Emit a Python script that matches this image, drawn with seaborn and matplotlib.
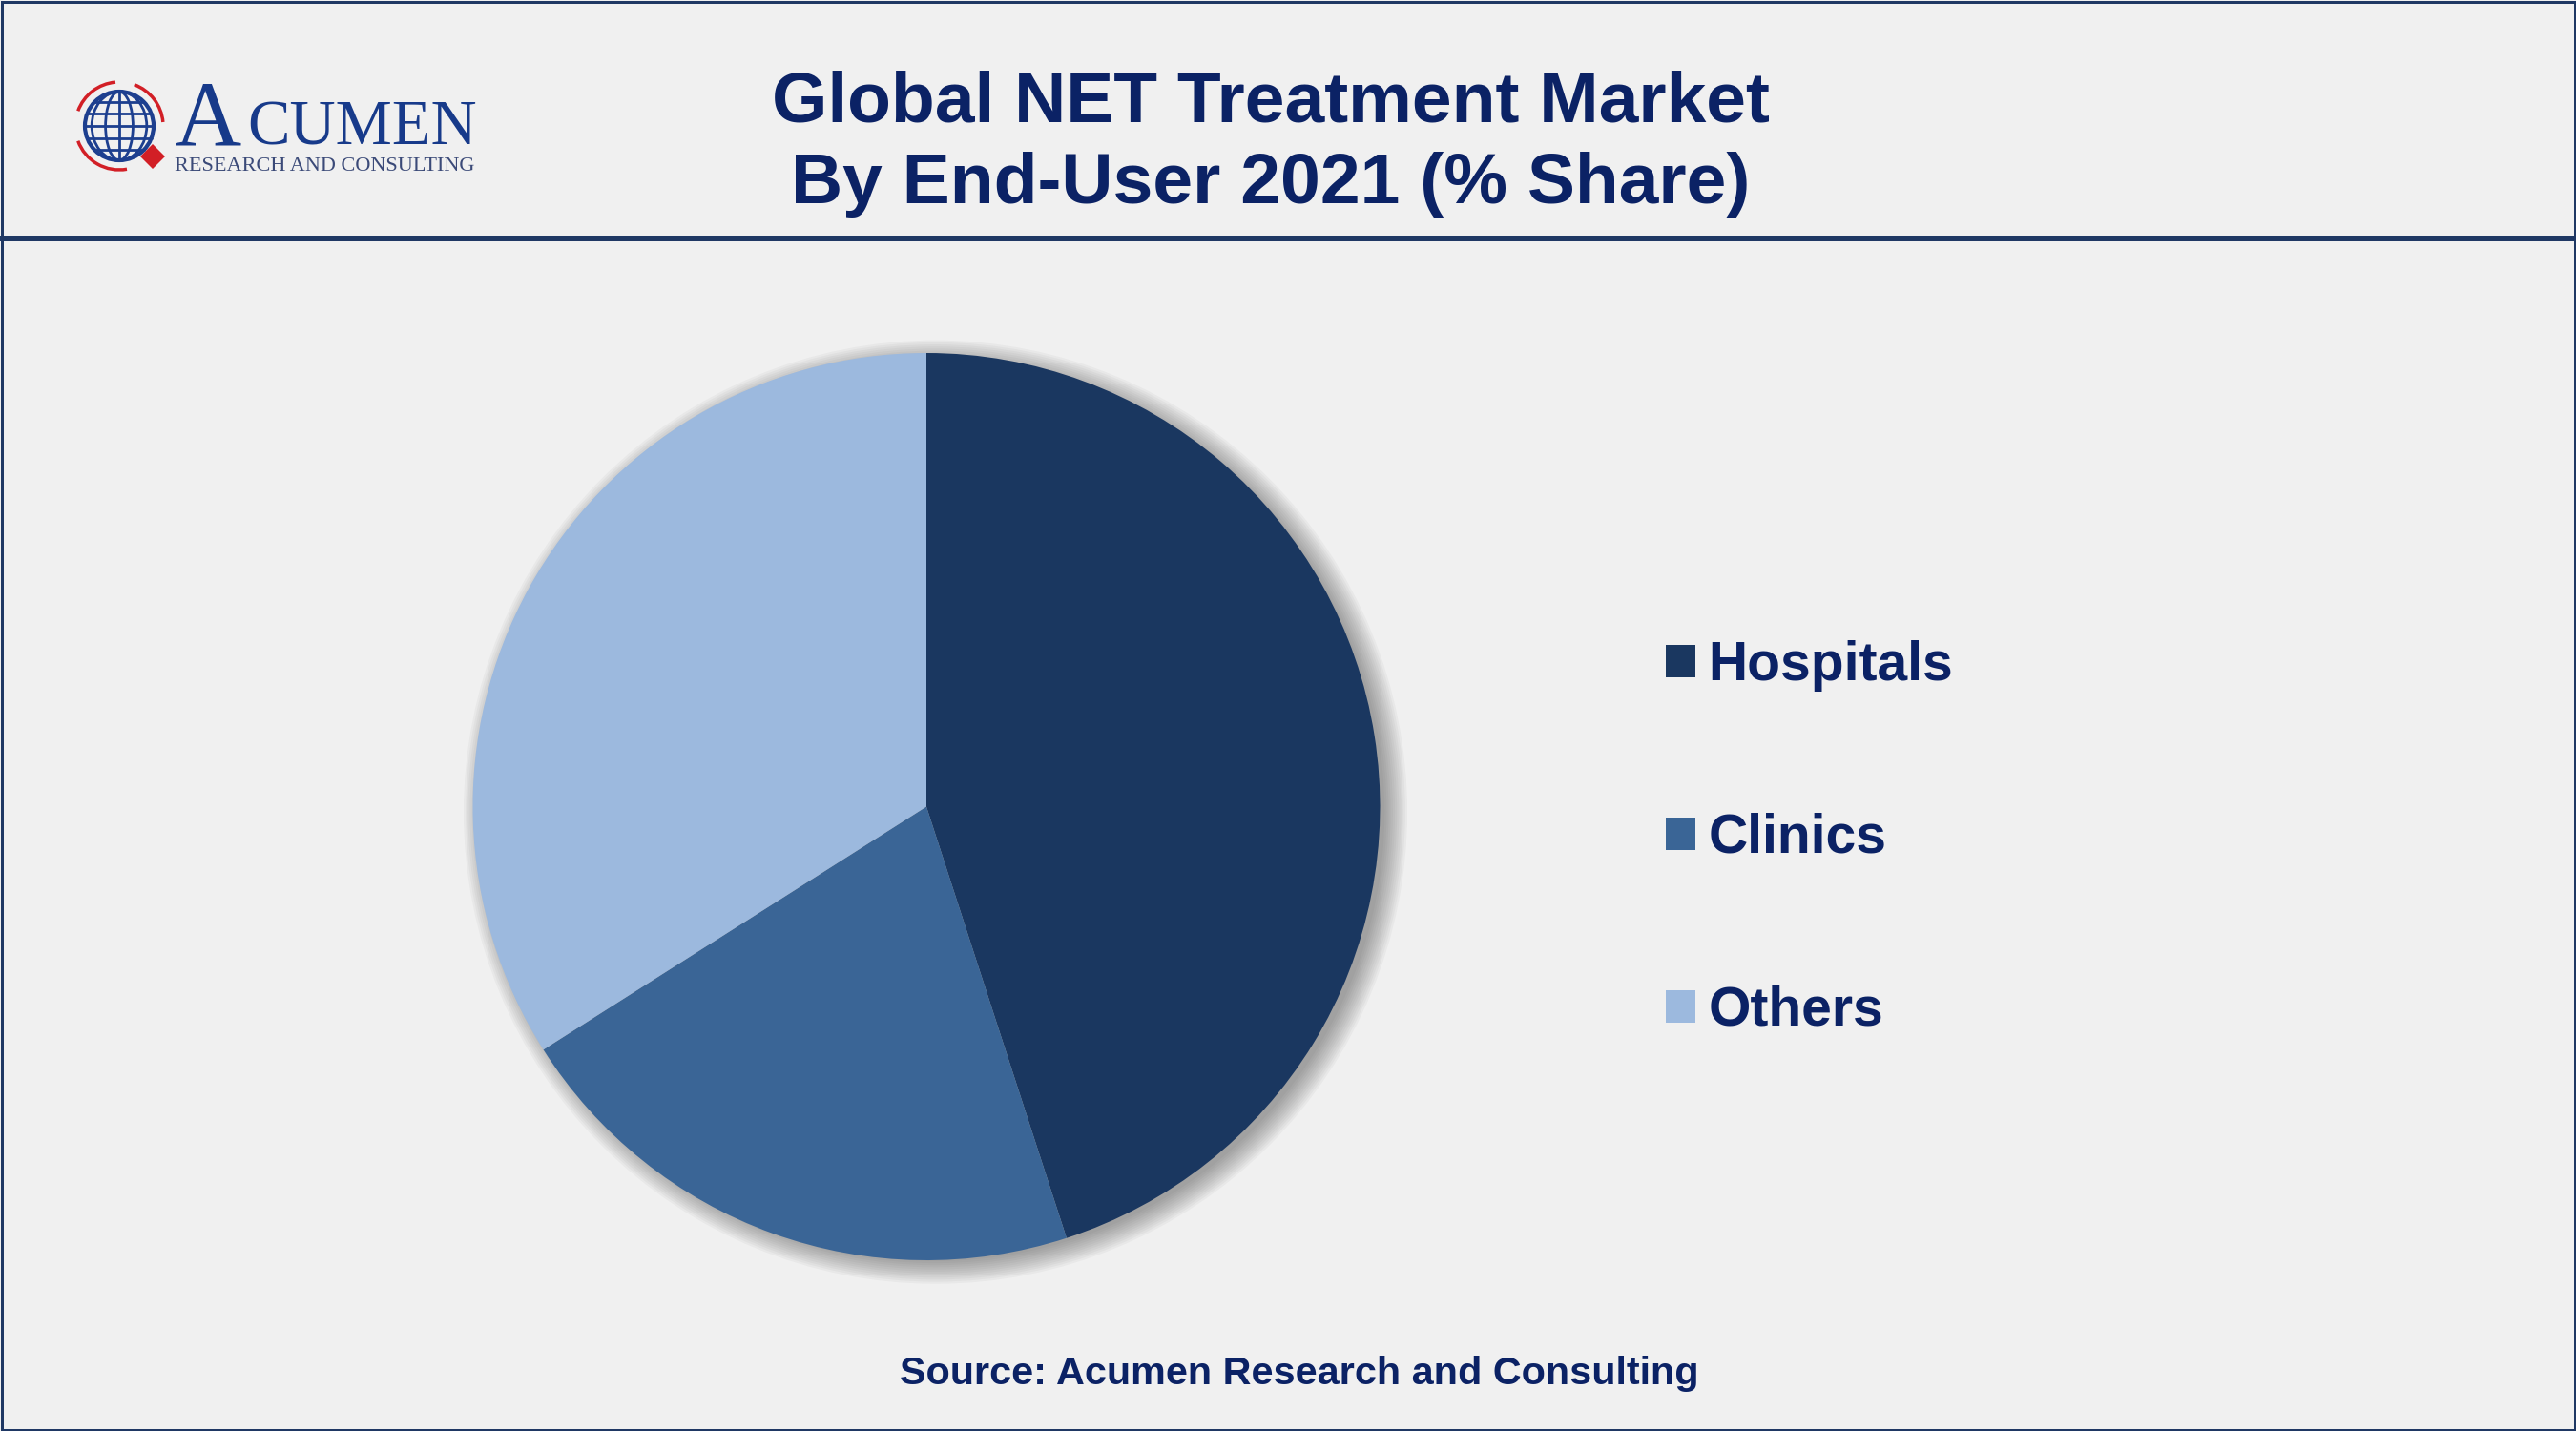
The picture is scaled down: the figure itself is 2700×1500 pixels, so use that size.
import numpy as np
import matplotlib
matplotlib.use("Agg")
import matplotlib.pyplot as plt
from matplotlib.patches import Circle, Ellipse, Arc, Rectangle, Polygon
import seaborn as sns

# ---- data ----
categories = ["Hospitals", "Clinics", "Others"]
shares = [45.0, 21.0, 34.0]
colors = ["#1a3760", "#3a6596", "#9cb9de"]

title_line1 = "Global NET Treatment Market"
title_line2 = "By End-User 2021 (% Share)"
source_text = "Source: Acumen Research and Consulting"

# ---- style ----
sns.set_theme(style="white")
plt.rcParams["font.family"] = ["Liberation Sans", "DejaVu Sans"]
BG = "#f0f0f0"
NAVY = "#0b2265"
BORDER = "#1f3864"

W, H = 2700, 1500
fig = plt.figure(figsize=(27, 15), dpi=100, facecolor=BG)

# overlay axes in pixel coords for frame / header / logo
ov = fig.add_axes([0, 0, 1, 1], zorder=0)
ov.set_xlim(0, W)
ov.set_ylim(H, 0)
ov.axis("off")
ov.set_facecolor(BG)
ov.add_patch(Rectangle((1.5, 1.5), W - 3, H - 3, fill=False, ec=BORDER, lw=3 * 0.72))
ov.plot([0, W], [250, 250], color=BORDER, lw=6 * 0.72, solid_capstyle="butt")

# logo: globe
gx, gy, gr = 125, 132, 36
globe_c = "#1d3f8f"
red_c = "#d21f26"
ov.add_patch(Circle((gx, gy), gr, fill=False, ec=globe_c, lw=3))
for wf in [0.4, 0.8]:
    ov.add_patch(Ellipse((gx, gy), 2 * gr * wf, 2 * gr, fill=False, ec=globe_c, lw=2))
ov.plot([gx, gx], [gy - gr, gy + gr], color=globe_c, lw=2)
for f in [-0.7, -0.35, 0, 0.35, 0.7]:
    half = gr * np.sqrt(1 - f * f)
    ov.plot([gx - half, gx + half], [gy + f * gr, gy + f * gr], color=globe_c, lw=2)
for t1, t2 in [(200, 265), (290, 355), (80, 160)]:
    ov.add_patch(Arc((gx, gy), 2 * 46, 2 * 46, theta1=t1, theta2=t2, ec=red_c, lw=2.5))
ov.add_patch(Polygon([[160, 151], [173, 164], [160, 177], [147, 164]], closed=True, fc=red_c, ec="none"))

# logo text
serif = ["Liberation Serif", "DejaVu Serif"]
ov.text(183, 152, "A", family=serif, fontsize=70, color="#173a8a", va="baseline", ha="left")
ov.text(259, 152, "CUMEN", family=serif, fontsize=48, color="#173a8a", va="baseline", ha="left")
ov.text(183, 179, "RESEARCH AND CONSULTING", family=serif, fontsize=16,
        color="#3b4a78", va="baseline", ha="left")

# title & source
ov.text(1332, 128, title_line1, fontsize=54, fontweight="bold", color=NAVY, ha="center", va="baseline")
ov.text(1332, 213, title_line2, fontsize=54, fontweight="bold", color=NAVY, ha="center", va="baseline")
ov.text(1362, 1451, source_text, fontsize=29.8, fontweight="bold", color=NAVY, ha="center", va="baseline")

# ---- pie ----
cx, cy, R = 971, 845.5, 475.5
ax = fig.add_axes([(cx - R) / W, (H - cy - R) / H, 2 * R / W, 2 * R / H], zorder=2)
ax.set_xlim(-1, 1)
ax.set_ylim(-1, 1)
ax.axis("off")

# soft shadow (lower right)
for r in np.linspace(1.04, 0.99, 12):
    ax.add_patch(Circle((0.02, -0.012), r, fc="#3a3a3a", ec="none", alpha=0.045,
                        clip_on=False, zorder=0))

wedges, _ = ax.pie(shares, colors=colors, startangle=90, counterclock=False, radius=1,
                   wedgeprops=dict(linewidth=0, edgecolor="none"), normalize=True)
for w in wedges:
    w.set_zorder(1)
ax.set_xlim(-1, 1)
ax.set_ylim(-1, 1)

leg = ax.legend(wedges, categories, loc="upper left",
                bbox_to_anchor=(1746 / W, 1 - 671 / H), bbox_transform=fig.transFigure,
                frameon=False, fontsize=41, handlelength=0.55, handleheight=0.55,
                handletextpad=0.23, labelspacing=2.23, borderpad=0, borderaxespad=0)
for t in leg.get_texts():
    t.set_color(NAVY)
    t.set_fontweight("bold")

fig.savefig("out.png", dpi=100, facecolor=BG)
